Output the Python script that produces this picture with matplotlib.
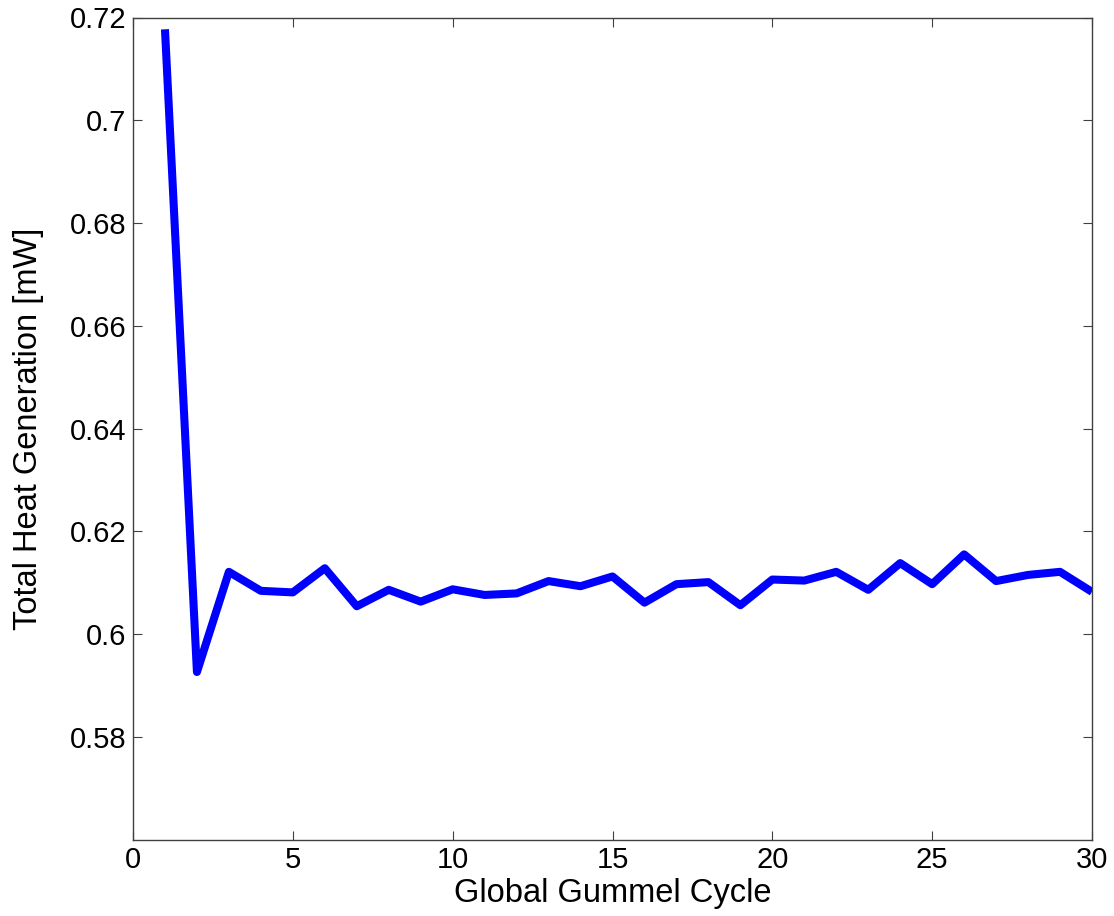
import numpy as np
import matplotlib
matplotlib.use("Agg")
import matplotlib.pyplot as plt

plt.rcParams['font.family'] = "Liberation Sans"

# heat generation per Gummel iteration
cycle = np.arange(1, 31)
heat_mw = [0.7177, 0.5926, 0.6121, 0.6084, 0.6081, 0.6128, 0.6054, 0.6086, 0.6063, 0.6087,
           0.6076, 0.6079, 0.6103, 0.6093, 0.6112, 0.6061, 0.6097, 0.6101, 0.6056, 0.6106,
           0.6104, 0.6121, 0.6086, 0.6138, 0.6097, 0.6155, 0.6103, 0.6115, 0.6121, 0.6082]

x_ticks = [0, 5, 10, 15, 20, 25, 30]
y_ticks = [0.58, 0.60, 0.62, 0.64, 0.66, 0.68, 0.70, 0.72]

fig = plt.figure(figsize=(11.14, 9.16), dpi=100)
ax = fig.add_axes([133/1114, 1-839.5/916, 959/1114, 822/916])

ax.plot(cycle, heat_mw, color=(0, 0, 1), lw=5.8, solid_joinstyle="round", solid_capstyle="butt")

ax.set_xlim(0, 30)
ax.set_ylim(0.56, 0.72)
ax.set_xticks(x_ticks)
ax.set_yticks(y_ticks)
ax.set_yticklabels([f"{v:g}" for v in y_ticks])

for sp in ax.spines.values():
    sp.set_color("#404040")
    sp.set_linewidth(1.0)
ax.tick_params(direction="in", length=6.5, width=0.8, color="#404040",
               top=True, right=True, labelsize=21, labelcolor="black")
ax.tick_params(axis="x", pad=5)
ax.tick_params(axis="y", pad=5)

ax.set_xlabel("Global Gummel Cycle", fontsize=23.5)
ax.set_ylabel("Total Heat Generation [mW]", fontsize=23.5)
ax.xaxis.set_label_coords(0.5, -0.047)
ax.yaxis.set_label_coords(-0.093, 0.5)

fig.savefig("out.png", dpi=100)
